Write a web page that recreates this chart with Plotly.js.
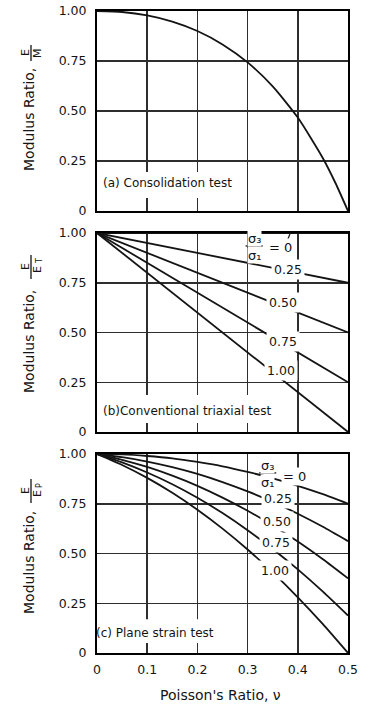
<!DOCTYPE html>
<html><head><meta charset="utf-8">
<script src="https://cdn.plot.ly/plotly-3.0.1.min.js"></script>
<style>html,body{margin:0;padding:0;background:#fff}#chart{width:369px;height:705px}</style>
</head><body><div id="chart"></div>
<script>
// ---------- data ----------
const xTickVals = [0, 0.1, 0.2, 0.3, 0.4, 0.5];
const xTickText = ['0', '0.1', '0.2', '0.3', '0.4', '0.5'];
const yTickVals = [0, 0.25, 0.5, 0.75, 1.0];
const yTickText = ['0', '0.25', '0.50', '0.75', '1.00'];

// (a) Consolidation test
const nuA = [0, 0.05, 0.10, 0.15, 0.20, 0.25, 0.30, 0.35, 0.40, 0.45, 0.475, 0.50];
const consolidation = [1.00, 0.995, 0.978, 0.947, 0.900, 0.833, 0.743, 0.623, 0.467, 0.264, 0.140, 0.00];

// (b) Conventional triaxial test (straight lines)
const nuB = [0, 0.5];
const triax000 = [1.00, 1.00];
const triax025 = [1.00, 0.75];
const triax050 = [1.00, 0.50];
const triax075 = [1.00, 0.25];
const triax100 = [1.00, 0.00];

// (c) Plane strain test
const nuC = [0, 0.05, 0.10, 0.15, 0.20, 0.25, 0.30, 0.35, 0.40, 0.45, 0.50];
const plane000 = [1.00, 0.998, 0.990, 0.978, 0.960, 0.938, 0.910, 0.878, 0.840, 0.798, 0.750];
const plane025 = [1.00, 0.984, 0.962, 0.934, 0.900, 0.859, 0.812, 0.759, 0.700, 0.634, 0.562];
const plane050 = [1.00, 0.971, 0.935, 0.891, 0.840, 0.781, 0.715, 0.641, 0.560, 0.471, 0.375];
const plane075 = [1.00, 0.958, 0.907, 0.848, 0.780, 0.703, 0.617, 0.523, 0.420, 0.308, 0.188];
const plane100 = [1.00, 0.945, 0.880, 0.805, 0.720, 0.625, 0.520, 0.405, 0.280, 0.145, 0.00];

const ratioLabels = ['0.25', '0.50', '0.75', '1.00'];

// ---------- styling / layout ----------
const F = 'DejaVu Sans, sans-serif';
const INK = '#141414';
const L = 97, R = 348, T = 11, B = 653;
const px2x = p => (p - L) / (R - L);
const py2y = p => (B - p) / (B - T);

function xa(anchor, labels) {
  return {
    domain: [0, 1], anchor: anchor, range: [0, 0.5],
    tickvals: xTickVals, ticktext: xTickText, showticklabels: labels,
    showgrid: true, gridcolor: '#2e2e2e', gridwidth: 1.5,
    showline: true, mirror: true, linecolor: '#000', linewidth: 2,
    zeroline: false, ticks: '', ticklabelstandoff: 4,
    tickfont: {family: F, size: 12.5, color: INK}, fixedrange: true
  };
}
function ya(anchor, dom) {
  return {
    domain: dom, anchor: anchor, range: [0, 1],
    tickvals: yTickVals, ticktext: yTickText,
    showgrid: true, gridcolor: '#2e2e2e', gridwidth: 1.5,
    showline: true, mirror: true, linecolor: '#000', linewidth: 2,
    zeroline: false, ticks: '', ticklabelstandoff: 6,
    tickfont: {family: F, size: 12.5, color: INK}, fixedrange: true
  };
}

const lineStyle = {color: INK, width: 1.8};
const curveStyle = {color: INK, width: 1.8, shape: 'spline', smoothing: 0.6};
function tr(x, y, xa_, ya_, style) {
  return {x: x, y: y, xaxis: xa_, yaxis: ya_, mode: 'lines', line: style, hoverinfo: 'skip', showlegend: false};
}

const data = [
  tr(nuA, consolidation, 'x', 'y', curveStyle),
  tr(nuB, triax000, 'x2', 'y2', lineStyle),
  tr(nuB, triax025, 'x2', 'y2', lineStyle),
  tr(nuB, triax050, 'x2', 'y2', lineStyle),
  tr(nuB, triax075, 'x2', 'y2', lineStyle),
  tr(nuB, triax100, 'x2', 'y2', lineStyle),
  tr(nuC, plane000, 'x3', 'y3', curveStyle),
  tr(nuC, plane025, 'x3', 'y3', curveStyle),
  tr(nuC, plane050, 'x3', 'y3', curveStyle),
  tr(nuC, plane075, 'x3', 'y3', curveStyle),
  tr(nuC, plane100, 'x3', 'y3', curveStyle)
];

const ann = [];
const shapes = [];
function txt(text, x, y, xref, yref, size, extra) {
  ann.push(Object.assign({text: text, x: x, y: y, xref: xref, yref: yref, showarrow: false,
    xanchor: 'center', yanchor: 'middle', font: {family: F, size: size, color: INK}}, extra || {}));
}
function seg(x0, y0, x1, y1, xref, yref, w) {
  shapes.push({type: 'line', x0: x0, y0: y0, x1: x1, y1: y1, xref: xref, yref: yref,
    line: {color: INK, width: w || 1.2}});
}
function gap(x0, y0, x1, y1, xref, yref) {
  shapes.push({type: 'rect', x0: x0, y0: y0, x1: x1, y1: y1, xref: xref, yref: yref,
    fillcolor: '#fff', line: {width: 0}, layer: 'between'});
}

// y-axis titles with stacked fractions (E over M / E_T / E_P)
const panels = [
  {textY: 120, fracY: 53, half: 8, den: 'M', sub: ''},
  {textY: 342, fracY: 267, half: 12, den: 'E', sub: 'T'},
  {textY: 563, fracY: 491, half: 12, den: 'E', sub: 'P'}
];
const rot = {textangle: -90};
panels.forEach(p => {
  txt('Modulus Ratio,', px2x(29), py2y(p.textY), 'paper', 'paper', 14, rot);
  txt('E', px2x(25), py2y(p.fracY), 'paper', 'paper', 11, rot);
  if (p.sub) {
    txt(p.den, px2x(37), py2y(p.fracY + 3), 'paper', 'paper', 11, rot);
    txt(p.sub, px2x(39.5), py2y(p.fracY - 5.5), 'paper', 'paper', 8, rot);
  } else {
    txt(p.den, px2x(37), py2y(p.fracY), 'paper', 'paper', 11, rot);
  }
  seg(px2x(31), py2y(p.fracY - p.half), px2x(31), py2y(p.fracY + p.half), 'paper', 'paper', 1.3);
});

// x-axis title
txt("Poisson's Ratio, \u03bd", px2x(220), py2y(695), 'paper', 'paper', 14);

// panel captions + gridline gaps behind them
gap(0.02, 0.065, 0.29, 0.195, 'x', 'y');
txt('(a) Consolidation test', 0.141, 0.14, 'x', 'y', 12);
gap(0.02, 0.045, 0.36, 0.186, 'x2', 'y2');
txt('(b)Conventional triaxial test', 0.179, 0.105, 'x2', 'y2', 12);
gap(0.02, 0.05, 0.24, 0.17, 'x3', 'y3');
txt('(c) Plane strain test', 0.116, 0.10, 'x3', 'y3', 12);

// curve labels
const lblB = [[0.381, 0.819], [0.371, 0.653], [0.371, 0.457], [0.366, 0.307]];
const lblC = [[0.360, 0.774], [0.359, 0.663], [0.357, 0.553], [0.355, 0.417]];
const lab = {bgcolor: '#fff', borderpad: 2};
ratioLabels.forEach((t, i) => {
  txt(t, lblB[i][0], lblB[i][1], 'x2', 'y2', 12.5, lab);
  txt(t, lblC[i][0], lblC[i][1], 'x3', 'y3', 12.5, lab);
});

// sigma3/sigma1 = 0 labels (unicode subscripts)
function sigmaLabel(xr, yr, cx, by, eqx, eqy) {
  txt('\u03c3\u2083', cx, by, xr, yr, 13, {yanchor: 'bottom', yshift: -1, bgcolor: '#fff', borderpad: 0});
  txt('\u03c3\u2081', cx, by, xr, yr, 13, {yanchor: 'top', yshift: -1, bgcolor: '#fff', borderpad: 0});
  txt('= 0', eqx, eqy, xr, yr, 13, {bgcolor: '#fff', borderpad: 1});
}
sigmaLabel('x2', 'y2', 0.313, 0.935, 0.366, 0.925);
sigmaLabel('x3', 'y3', 0.340, 0.905, 0.394, 0.885);

const layout = {
  width: 369, height: 705,
  margin: {l: L, r: 369 - R, t: T, b: 705 - B, pad: 0},
  paper_bgcolor: '#fff', plot_bgcolor: '#fff',
  showlegend: false,
  xaxis: xa('y', false), yaxis: ya('x', [py2y(211), 1]),
  xaxis2: xa('y2', false), yaxis2: ya('x2', [py2y(432), py2y(233)]),
  xaxis3: xa('y3', true), yaxis3: ya('x3', [0, py2y(454)]),
  annotations: ann,
  shapes: shapes
};
// fraction bars of the sigma labels
layout.shapes.push({type: 'line', xref: 'x2', yref: 'y2', x0: 0.296, x1: 0.330, y0: 0.935, y1: 0.935, line: {color: INK, width: 1.3}});
layout.shapes.push({type: 'line', xref: 'x3', yref: 'y3', x0: 0.323, x1: 0.357, y0: 0.905, y1: 0.905, line: {color: INK, width: 1.3}});
// leader from "= 0" to the top border line in (b)
layout.shapes.push({type: 'line', xref: 'x2', yref: 'y2', x0: 0.377, x1: 0.385, y0: 0.948, y1: 1.0, line: {color: INK, width: 1.2}});

Plotly.newPlot('chart', data, layout, {staticPlot: true, displayModeBar: false});
</script>
</body></html>
